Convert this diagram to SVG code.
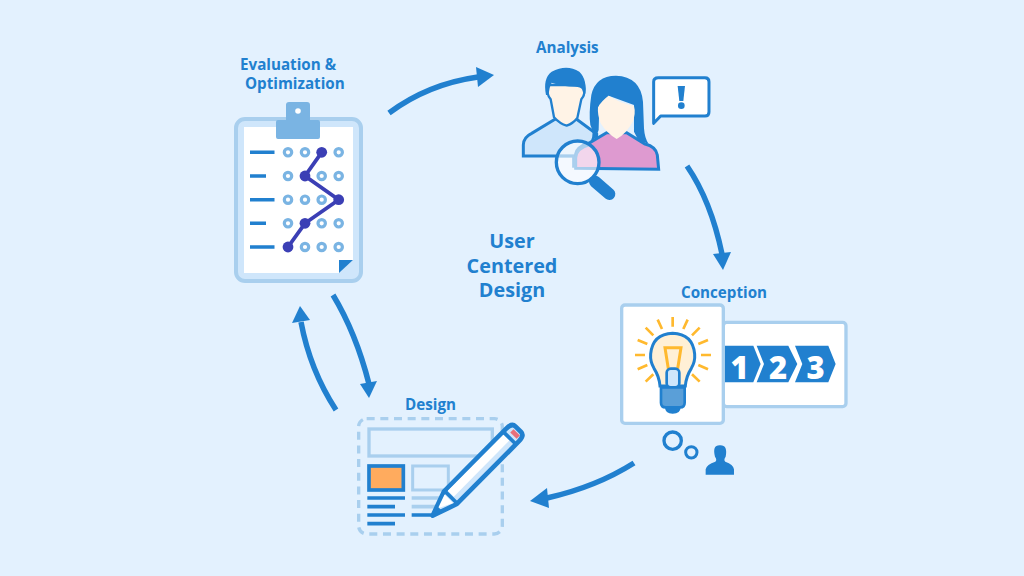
<svg xmlns="http://www.w3.org/2000/svg" width="1024" height="576" viewBox="0 0 1024 576">
<style>
.t{font-family:"Open Sans","Noto Sans",sans-serif;font-weight:700;fill:#2180cf;font-size:15.200px}
.c{font-size:19.800px;text-anchor:middle}
.n{font-family:"Open Sans","Noto Sans",sans-serif;font-weight:800;font-size:31px;fill:#fff;text-anchor:middle}
.d{fill:#cfe6fb}
.b{fill:#2180cf}
.ln{stroke:#2180cf;fill:none;stroke-linecap:butt}
.lt{stroke:#a9cfee;fill:none}
.w{fill:#fff}
.o{fill:#fff;stroke:#7ab4e3;stroke-width:3.200}
.ray{stroke:#ffb92e;stroke-width:8;fill:none}
.arc{stroke:#2180cf;stroke-width:5.500;fill:none}
.face{fill:#fff3e6}
</style>
<rect width="1024" height="576" fill="#e3f1fe"/>
<g id="connectors">
<path class="arc" d="M389 113Q428 84 478 77"/><polygon class="b" points="476,67 494,75 478,87"/>
<path class="arc" d="M687 166Q711 201 722 254"/><polygon class="b" points="713,254 723,270 731,252"/>
<path class="arc" d="M634 463Q596 487 547 498"/><polygon class="b" points="547,488 530,501 549,508"/>
<path class="arc" d="M333 295Q356 333 369 384"/><polygon class="b" points="360,384 369,398 377,381"/>
<path class="arc" d="M336 410Q310 370 301 322"/><polygon class="b" points="292,323 300,306 310,320"/>
</g>
<text class="t c" x="512" y="248">User</text>
<text class="t c" x="512" y="273">Centered</text>
<text class="t c" x="512" y="297">Design</text>
<g id="evaluation">
<text class="t" x="240" y="70">Evaluation &amp;</text>
<text class="t" x="245" y="89">Optimization</text>
<rect class="d" x="236" y="119" width="125" height="162" rx="9" stroke="#a9cfee" stroke-width="4"/>
<polygon class="w" points="244,127 353,127 353,260 339,273 244,273"/>
<polygon class="b" points="339,260 353,260 339,273"/>
<path fill="#7ab4e3" d="M289 102H307Q310 102 310 105V120H318Q320 120 320 122V137Q320 139 318 139H278Q276 139 276 137V122Q276 120 278 120H286V105Q286 102 289 102Z"/>
<circle class="w" cx="298" cy="111" r="2.800"/>
<g class="ln" stroke-width="3.600">
<path d="M250 152.300H274.500M250 176H266M250 199.700H274.500M250 223.300H266M250 247H274.500"/>
</g>
<circle class="o" cx="288" cy="152.300" r="3.700"/><circle class="o" cx="305" cy="152.300" r="3.700"/><circle class="o" cx="338.700" cy="152.300" r="3.700"/>
<circle class="o" cx="288" cy="176" r="3.700"/><circle class="o" cx="321.700" cy="176" r="3.700"/><circle class="o" cx="338.700" cy="176" r="3.700"/>
<circle class="o" cx="288" cy="199.700" r="3.700"/><circle class="o" cx="305" cy="199.700" r="3.700"/><circle class="o" cx="321.700" cy="199.700" r="3.700"/>
<circle class="o" cx="288" cy="223.300" r="3.700"/><circle class="o" cx="321.700" cy="223.300" r="3.700"/><circle class="o" cx="338.700" cy="223.300" r="3.700"/>
<circle class="o" cx="305" cy="247" r="3.700"/><circle class="o" cx="321.700" cy="247" r="3.700"/><circle class="o" cx="338.700" cy="247" r="3.700"/>
<path d="M321.700 152.300L305 176L338.700 199.700L305 223.300L288 247" fill="none" stroke="#3b3fb5" stroke-width="3.800"/>
<g fill="#3b3fb5"><circle cx="321.700" cy="152.300" r="5.400"/><circle cx="305" cy="176" r="5.400"/><circle cx="338.700" cy="199.700" r="5.400"/><circle cx="305" cy="223.300" r="5.400"/><circle cx="288" cy="247" r="5.400"/></g>
</g>
<g id="analysis">
<text class="t" x="536" y="53">Analysis</text>
<g transform="translate(510 30) scale(.3333)">
<path class="d" stroke="#2180cf" stroke-width="9" d="M40 378V345Q40 322 65 310L135 268L200 268L260 312L260 378Z"/>
<path class="face" stroke="#2180cf" stroke-width="7" d="M113 165Q108 192 122 208L132 262Q150 282 170 287Q190 280 202 264L214 208Q228 192 222 165Z"/>
<path class="b" d="M108 195Q98 145 125 125Q170 102 208 125Q234 150 224 200L216 178Q212 170 195 170Q160 170 125 158Q118 170 116 195Z"/>
<path fill="#de9ad0" stroke="#2180cf" stroke-width="9" d="M197 415V372Q200 350 240 338L290 308H350L405 342Q438 350 442 375L446 418Z"/>
<path class="b" d="M241 285Q236 250 244 195Q256 138 318 137Q392 140 399 215L402 295Q404 325 416 342L385 330L372 305L372 225L296 197L268 225L266 300L258 322L242 335Q254 310 241 285Z"/>
<path class="face" d="M264 232Q275 212 296 197Q325 217 372 228Q378 250 368 275Q350 310 320 327Q290 310 272 280Q262 255 264 232Z"/>
<circle cx="203" cy="397" r="64" fill="#fff" fill-opacity=".6"/>
<path d="M255 455L298 492" stroke="#2180cf" stroke-width="36" stroke-linecap="round"/>
<path d="M140 378H190V413" fill="none" stroke="#a9cfee" stroke-width="7"/>
<path d="M197 413V385Q200 355 240 345" fill="none" stroke="#a9cfee" stroke-width="7"/>
<circle cx="203" cy="397" r="64" fill="none" stroke="#2180cf" stroke-width="10"/>
<path fill="#fff" stroke="#2180cf" stroke-width="9" stroke-linejoin="round" d="M445 143H585Q597 143 597 155V246Q597 258 585 258H452L431 280V155Q431 143 445 143Z"/>
<path class="b" d="M503 168H525L520 213H508Z"/><circle class="b" cx="514" cy="227" r="10"/>
</g>
</g>
<g id="conception">
<text class="t" x="681" y="298">Conception</text>
<g transform="translate(610 280) scale(.3333)">
<rect class="w" x="340" y="127" width="368" height="253" rx="10" stroke="#a9cfee" stroke-width="10"/>
<rect class="w" x="35" y="75" width="305" height="355" rx="10" stroke="#a9cfee" stroke-width="10"/>
<polygon class="b" points="345,197 430,197 452,252 430,307 345,307"/>
<polygon class="b" points="440,197 535,197 562,252 535,307 440,307 462,252"/>
<polygon class="b" points="555,197 655,197 677,252 655,307 555,307 577,252"/>
<g class="ray">
<path d="M188 111V140M143 119L156 147M107 143L130 166M83 180L112 192M75 225H105M83 268L112 255M107 305L130 283M233 119L220 147M269 143L246 166M294 180L265 192M303 225H273M294 268L265 255M269 305L246 283"/>
</g>
<path fill="#fff0d6" stroke="#2180cf" stroke-width="9" d="M150 318Q148 290 132 265Q120 245 122 222Q128 162 188 160Q248 162 254 222Q256 245 244 265Q228 290 226 318Z"/>
<path fill="none" stroke="#ffb92e" stroke-width="9" d="M175 266L165 203H213L203 266"/>
<rect x="170" y="266" width="38" height="56" rx="12" fill="#cfe6fb" stroke="#2180cf" stroke-width="8"/>
<path class="b" d="M165 380H212Q212 401 188 401Q165 401 165 380Z"/>
<path fill="#5a9fd8" stroke="#2180cf" stroke-width="8" d="M153 322H224V368Q224 382 210 382H167Q153 382 153 368Z"/>
<circle cx="188" cy="482" r="26" fill="none" stroke="#2180cf" stroke-width="10"/>
<circle cx="244" cy="517" r="17" fill="none" stroke="#2180cf" stroke-width="9"/>
<path class="b" d="M287 584V568Q290 553 316 545Q322 540 315 530Q306 495 330 496Q354 495 347 530Q340 540 346 545Q370 553 372 568V584Z"/>
</g>
<text class="n" x="739.500" y="379">1</text>
<text class="n" x="778" y="379">2</text>
<text class="n" x="815.500" y="379">3</text>
</g>
<g id="design">
<text class="t" x="405" y="410">Design</text>
<g transform="translate(350 390) scale(.3333)">
<rect x="26" y="86" width="431" height="346" rx="24" class="lt" stroke-width="10" stroke-dasharray="24 17"/>
<rect x="57" y="117" width="370" height="81" class="lt" stroke-width="10"/>
<rect x="57" y="228" width="103" height="72" fill="#ffab5e" stroke="#2180cf" stroke-width="11"/>
<rect x="188" y="228" width="107" height="72" class="lt" stroke-width="9"/>
<path class="ln" stroke-width="11" d="M52 324H165M52 350H135M52 375H165M52 401H135M185 375H250"/>
<path class="lt" stroke-width="11" d="M185 324H270M185 350H260"/>
<g transform="translate(248 377) rotate(-45.300)">
<path fill="#cfe6fb" stroke="#2180cf" stroke-width="14" stroke-linejoin="round" d="M0 0L76 -27H340Q365 -27 365 -12V12Q365 27 340 27H76Z"/>
<path class="w" d="M85 -20H322V5H85Z"/>
<path class="w" d="M27 -4L70 -19L70 17Z"/>
<path class="b" d="M0 0L30 -9V9Z"/>
<path stroke="#2180cf" stroke-width="11" d="M78 -27V27M328 -27V27"/>
<rect x="341" y="-10" width="14" height="27" fill="#e8707a"/>
</g>
</g>
</g>
</svg>
